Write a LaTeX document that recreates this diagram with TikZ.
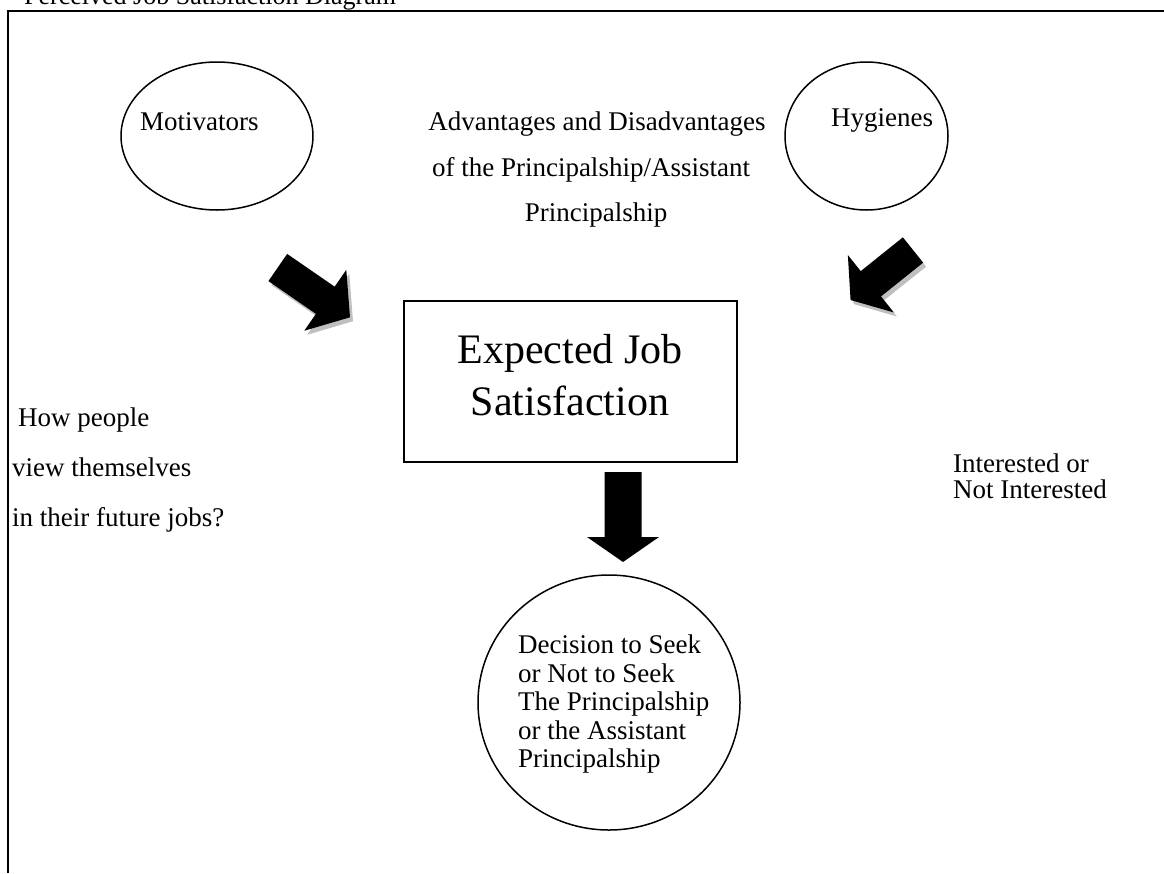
\documentclass[tikz,border=0pt]{standalone}
\usepackage{fontspec}
\setmainfont{Liberation Serif}
\usetikzlibrary{shapes.geometric}
\newcommand\myarrowpath[5]{(0,-#2)--(#1-#5,-#2)--(#1-#5,-#3)--(#1,0)--(#1-#5,#3)--(#1-#5,#2)--(0,#2)--cycle}
\newcommand\myblockarrow[7]{% x, y, angle, length, shaft half width, head half width, head length
  \begin{scope}[shift={(#1+3,#2+4)},rotate=#3]
    \fill[gray!50] (0,-#5)--(#4-#7,-#5)--(#4-#7,-#6)--(#4,0)--(#4-#7,#6)--(#4-#7,#5)--(0,#5)--cycle;
  \end{scope}
  \begin{scope}[shift={(#1,#2)},rotate=#3]
    \fill[black] (0,-#5)--(#4-#7,-#5)--(#4-#7,-#6)--(#4,0)--(#4-#7,#6)--(#4-#7,#5)--(0,#5)--cycle;
  \end{scope}}
\newcommand\myplainarrow[7]{%
  \begin{scope}[shift={(#1,#2)},rotate=#3]
    \fill[black] (0,-#5)--(#4-#7,-#5)--(#4-#7,-#6)--(#4,0)--(#4-#7,#6)--(#4-#7,#5)--(0,#5)--cycle;
  \end{scope}}
\begin{document}
\begin{tikzpicture}[x=1pt,y=-1pt,
  body/.style={font=\fontsize{27}{28.5}\selectfont, inner sep=0pt},
  big/.style={font=\fontsize{42}{54}\selectfont, inner sep=0pt, align=center},
  oval/.style={draw, ellipse, line width=1.5pt, inner sep=0pt},
  framebox/.style={draw, rectangle, line width=1.8pt, inner sep=0pt}]
\useasboundingbox (0,0) rectangle (1164,873);
\clip (0,0) rectangle (1164,873);
% title (cropped at top)
\node[body, font=\fontsize{26}{30}\selectfont, anchor=base west] (title) at (24,4) {Perceived Job Satisfaction Diagram};
% frame
\coordinate (fbl) at (8,873);
\coordinate (ftl) at (8,11);
\coordinate (ftr) at (1164,11);
\draw[line width=1.8pt] (fbl) -- (ftl) -- (ftr);
% ellipses
\node[oval, minimum width=192pt, minimum height=148pt] (mot) at (217,136) {};
\node[oval, minimum width=163pt, minimum height=148pt] (hyg) at (866.5,136) {};
\node[oval, minimum width=262pt, minimum height=255pt] (dec) at (609,702.5) {};
% box
\node[framebox, minimum width=333pt, minimum height=161pt] (exp) at (570.5,381.5) {};
% texts
\node[body, anchor=base west] (motT) at (140,130) {Motivators};
\node[body, anchor=base west] (hygT) at (831,126) {Hygienes};
\node[body, anchor=base] (adv1) at (597,130) {Advantages and Disadvantages};
\node[body, anchor=base] (adv2) at (591,176) {of the Principalship/Assistant};
\node[body, anchor=base] (adv3) at (596,221) {Principalship};
\node[big, anchor=base] (exp1) at (570,363) {Expected Job};
\node[big, anchor=base] (exp2) at (570,415) {Satisfaction};
\node[body, anchor=base west] (how1) at (18,426) {How people};
\node[body, anchor=base west] (how2) at (12,476) {view themselves};
\node[body, anchor=base west] (how3) at (12,526) {in their future jobs?};
\node[body, anchor=base west] (int1) at (953,472) {Interested or};
\node[body, anchor=base west] (int2) at (953,498) {Not Interested};
\node[body, anchor=north west, align=left] (decT) at (518,635) {Decision to Seek\\or Not to Seek\\The Principalship\\or the Assistant\\Principalship};
% block arrows
\myblockarrow{277.8}{267.5}{-34.6}{87.7}{16.5}{37}{30}
\myblockarrow{913}{250}{-141.3}{80}{16.2}{36.8}{26}
\myplainarrow{623}{472}{-90}{90}{18.5}{36}{25}
\end{tikzpicture}
\end{document}
